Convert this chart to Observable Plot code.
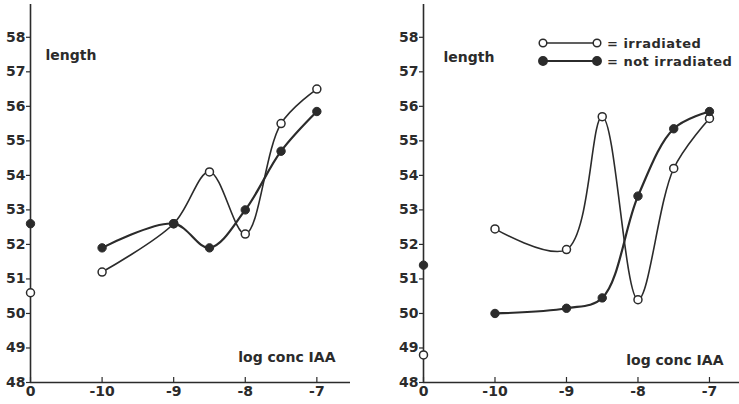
<!DOCTYPE html>
<html>
<head>
<meta charset="utf-8">
<script src="https://cdn.jsdelivr.net/npm/d3@7"></script>
<script src="https://cdn.jsdelivr.net/npm/@observablehq/plot@0.6"></script>
<style>
  html, body { margin: 0; padding: 0; background: #fff; }
  #wrap { position: relative; display: flex; width: 739px; height: 404px; }
  #legend { position: absolute; left: 0; top: 0; pointer-events: none; }
</style>
</head>
<body>
<div id="wrap"></div>
<script>
// log conc IAA (0 = control, drawn at the broken axis origin)
const conc = [0, -10, -9, -8.5, -8, -7.5, -7];
const xTicks = [0, -10, -9, -8, -7];
const yTicks = [48, 49, 50, 51, 52, 53, 54, 55, 56, 57, 58];

// Left panel
const leftIrradiated    = [50.6, 51.2, 52.6, 54.1, 52.3, 55.5, 56.5];
const leftNotIrradiated = [52.6, 51.9, 52.6, 51.9, 53.0, 54.7, 55.85];
// Right panel
const rightIrradiated    = [48.8, 52.45, 51.85, 55.7, 50.4, 54.2, 55.65];
const rightNotIrradiated = [51.4, 50.0, 50.15, 50.45, 53.4, 55.35, 55.85];

const seriesNames = ["irradiated", "not irradiated"];
const ink = "#2b2b2b";
const font = "'DejaVu Sans', sans-serif";
const fs = 14;

// the control (0) sits on the broken axis, one unit left of -10
const pos = v => (v === 0 ? -11 : v);

function rows(irr, not) {
  return conc.flatMap((c, i) => [
    {x: pos(c), c, y: irr[i], s: seriesNames[0]},
    {x: pos(c), c, y: not[i], s: seriesNames[1]}
  ]);
}

function panel(irr, not, opts) {
  const data = rows(irr, not);
  const lineData = data.filter(d => d.c !== 0);
  return Plot.plot({
    width: opts.width,
    height: 404,
    marginLeft: opts.marginLeft,
    marginRight: opts.marginRight,
    marginTop: 4,
    marginBottom: 22,
    style: {fontFamily: font, fontSize: fs + "px", fontWeight: "bold", color: ink, background: "#fff"},
    x: {domain: [-11, opts.xMax], axis: null},
    y: {domain: [48, 58.95], axis: null},
    marks: [
      Plot.ruleX([-11], {stroke: ink, strokeWidth: 1.6}),
      Plot.ruleY([48], {stroke: ink, strokeWidth: 1.6}),
      Plot.axisY({ticks: yTicks, label: null, tickSize: 4, tickPadding: 1, tickFormat: d => String(d), fontSize: fs, fontWeight: "bold", stroke: ink, strokeWidth: 1.2}),
      Plot.axisX({ticks: xTicks.map(pos), label: null, tickSize: -5, tickPadding: 9,
        tickFormat: d => (d === -11 ? "0" : "-" + Math.abs(d)), fontSize: fs, fontWeight: "bold", stroke: ink, strokeWidth: 1.2}),
      Plot.line(lineData.filter(d => d.s === seriesNames[0]), {x: "x", y: "y", curve: "catmull-rom", stroke: ink, strokeWidth: 1.6}),
      Plot.line(lineData.filter(d => d.s === seriesNames[1]), {x: "x", y: "y", curve: "catmull-rom", stroke: ink, strokeWidth: 2.2}),
      Plot.dot(data.filter(d => d.s === seriesNames[0]), {x: "x", y: "y", r: 4, fill: "#fff", stroke: ink, strokeWidth: 1.5}),
      Plot.dot(data.filter(d => d.s === seriesNames[1]), {x: "x", y: "y", r: 4.2, fill: ink, stroke: ink, strokeWidth: 1}),
      Plot.text(["length"], {frameAnchor: "top-left", dx: opts.lenDx, dy: opts.lenDy, textAnchor: "start", fill: ink, fontSize: fs, fontWeight: "bold", letterSpacing: 0.6}),
      Plot.text(["log conc IAA"], {frameAnchor: "bottom-right", dx: opts.logDx, dy: opts.logDy, textAnchor: "end", fill: ink, fontSize: fs, fontWeight: "bold", letterSpacing: 0.9})
    ]
  });
}

const wrap = document.getElementById("wrap");
wrap.append(panel(leftIrradiated, leftNotIrradiated,
  {width: 370, marginLeft: 30, marginRight: 20, xMax: -6.53, lenDx: 15, lenDy: 46, logDx: -15, logDy: -21}));
wrap.append(panel(rightIrradiated, rightNotIrradiated,
  {width: 369, marginLeft: 53, marginRight: 0, xMax: -6.58, lenDx: 20, lenDy: 48, logDx: -16, logDy: -18}));

// legend (right panel, top)
const ns = "http://www.w3.org/2000/svg";
const lg = document.createElementNS(ns, "svg");
lg.setAttribute("id", "legend");
lg.setAttribute("width", 739);
lg.setAttribute("height", 80);
const rowsY = [43, 61];
seriesNames.forEach((name, i) => {
  const y = rowsY[i];
  const line = document.createElementNS(ns, "line");
  line.setAttribute("x1", 543); line.setAttribute("x2", 597);
  line.setAttribute("y1", y); line.setAttribute("y2", y);
  line.setAttribute("stroke", ink); line.setAttribute("stroke-width", i ? 2.2 : 1.6);
  lg.append(line);
  [543, 597].forEach(cx => {
    const c = document.createElementNS(ns, "circle");
    c.setAttribute("cx", cx); c.setAttribute("cy", y); c.setAttribute("r", i ? 4.2 : 3.8);
    c.setAttribute("fill", i ? ink : "#fff"); c.setAttribute("stroke", ink); c.setAttribute("stroke-width", 1.5);
    lg.append(c);
  });
  const t = document.createElementNS(ns, "text");
  t.setAttribute("x", 607); t.setAttribute("y", y);
  t.setAttribute("dy", "0.35em");
  t.setAttribute("fill", ink);
  t.setAttribute("font-family", font);
  t.setAttribute("font-size", 13);
  t.setAttribute("font-weight", "bold");
  t.setAttribute("letter-spacing", 0.5);
  t.textContent = "= " + name;
  lg.append(t);
});
wrap.append(lg);
</script>
</body>
</html>
